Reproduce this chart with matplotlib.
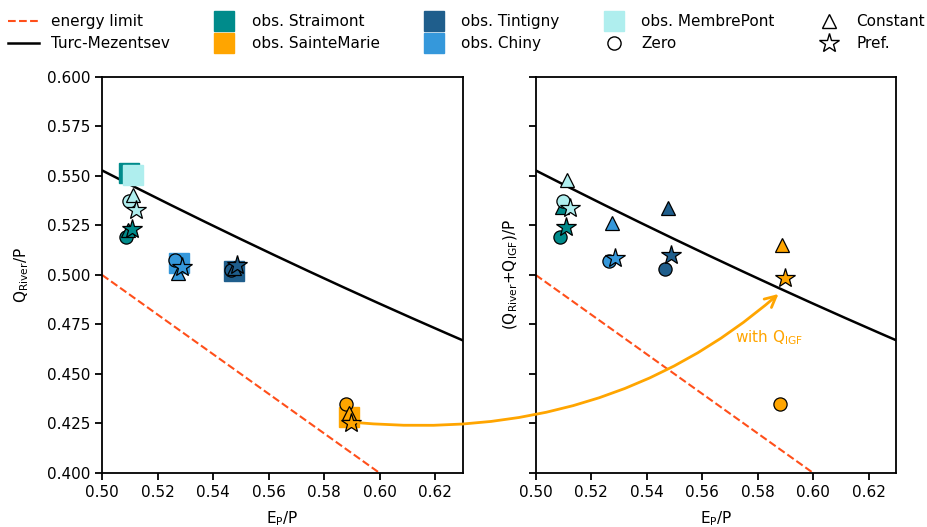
import numpy as np
import matplotlib
matplotlib.use("Agg")
import matplotlib.pyplot as plt
from matplotlib.lines import Line2D
from matplotlib.patches import ConnectionPatch

plt.rcParams["font.family"] = ["DejaVu Sans"]
plt.rcParams["font.size"] = 11

# Catchments and their colours
stations = ["Straimont", "SainteMarie", "Tintigny", "Chiny", "MembrePont"]
colors = ["#008b8b", "#ffa500", "#1f5e8c", "#3598db", "#afeeee"]

# Observed Ep/P and Q_River/P
obs_ep = [0.5098, 0.5889, 0.5474, 0.5276, 0.5110]
obs_q = [0.5517, 0.4284, 0.5022, 0.5059, 0.5505]

# Modelled Ep/P per IGF hypothesis
ep_zero = [0.5088, 0.5880, 0.5466, 0.5264, 0.5098]
ep_const = [0.5094, 0.5889, 0.5475, 0.5275, 0.5112]
ep_pref = [0.5108, 0.5897, 0.5487, 0.5287, 0.5123]

# Modelled Q_River/P per hypothesis
qr_zero = [0.5190, 0.4348, 0.5027, 0.5074, 0.5372]
qr_const = [0.5227, 0.4301, 0.5034, 0.5012, 0.5404]
qr_pref = [0.5232, 0.4254, 0.5050, 0.5042, 0.5328]

# Modelled (Q_River + Q_IGF)/P per hypothesis
qt_zero = [0.5190, 0.4348, 0.5030, 0.5072, 0.5375]
qt_const = [0.5345, 0.5152, 0.5337, 0.5264, 0.5480]
qt_pref = [0.5244, 0.4984, 0.5101, 0.5084, 0.5337]

xlim = (0.50, 0.63)
ylim = (0.40, 0.60)
xticks = [0.50, 0.52, 0.54, 0.56, 0.58, 0.60, 0.62]
yticks = [0.400, 0.425, 0.450, 0.475, 0.500, 0.525, 0.550, 0.575, 0.600]

fig, (ax1, ax2) = plt.subplots(1, 2, figsize=(9.28, 5.27), dpi=100)
fig.subplots_adjust(left=0.110, right=0.966, bottom=0.1025, top=0.854, wspace=0.202)

x = np.linspace(xlim[0], xlim[1], 200)
turc = 1.0 - (1.0 + x ** -2.0) ** -0.5
energy = 1.0 - x

for ax in (ax1, ax2):
    ax.plot(x, energy, ls="--", color="#ff4f1a", lw=1.5, zorder=2)
    ax.plot(x, turc, color="black", lw=1.8, zorder=2)
    ax.set_xlim(*xlim)
    ax.set_ylim(*ylim)
    ax.set_xticks(xticks)
    ax.set_yticks(yticks)
    ax.set_xticklabels([f"{t:.2f}" for t in xticks])
    ax.set_xlabel(r"E$_{\rm P}$/P", labelpad=7)
    for s in ax.spines.values():
        s.set_linewidth(1.3)
    ax.tick_params(width=1.3, length=5)

ax1.set_yticklabels([f"{t:.3f}" for t in yticks])
ax2.set_yticklabels([])
ax1.set_ylabel(r"Q$_{\rm River}$/P", labelpad=11)
ax2.set_ylabel(r"(Q$_{\rm River}$+Q$_{\rm IGF}$)/P", labelpad=3)

mk = dict(ls="none", markeredgecolor="black", markeredgewidth=0.9, zorder=4)

# Left: observed squares and Q_River/P
for i, c in enumerate(colors):
    ax1.plot(obs_ep[i], obs_q[i], marker="s", ms=15, color=c, mec=c, ls="none", zorder=3)
for i, c in enumerate(colors):
    ax1.plot(ep_zero[i], qr_zero[i], marker="o", ms=9.5, mfc=c, **mk)
    ax1.plot(ep_const[i], qr_const[i], marker="^", ms=10.5, mfc=c, **mk)
    ax1.plot(ep_pref[i], qr_pref[i], marker="*", ms=15, mfc=c, **mk)

# Right: total outflow including IGF
for i, c in enumerate(colors):
    ax2.plot(ep_zero[i], qt_zero[i], marker="o", ms=9.5, mfc=c, **mk)
    ax2.plot(ep_const[i], qt_const[i], marker="^", ms=10.5, mfc=c, **mk)
    ax2.plot(ep_pref[i], qt_pref[i], marker="*", ms=15, mfc=c, **mk)

# Arrow from the SainteMarie point without IGF to the one with IGF
con = ConnectionPatch(xyA=(ep_pref[1] + 0.0025, qr_pref[1]), coordsA=ax1.transData,
                      xyB=(ep_pref[1] - 0.0022, qt_pref[1] - 0.008), coordsB=ax2.transData,
                      arrowstyle="->", connectionstyle="angle3,angleA=-5,angleB=41",
                      color="#ffa500", lw=2, mutation_scale=20, shrinkA=0, shrinkB=0,
                      zorder=5)
fig.add_artist(con)
ax2.text(0.5842, 0.4685, r"with Q$_{\rm IGF}$", color="#ffa500", ha="center", va="center")

handles = [
    Line2D([], [], ls="--", color="#ff4f1a", lw=1.5, label="energy limit"),
    Line2D([], [], color="black", lw=1.8, label="Turc-Mezentsev"),
]
for st, c in zip(stations, colors):
    handles.append(Line2D([], [], marker="s", ms=15, color=c, mec=c, ls="none", label=f"obs. {st}"))
handles += [
    Line2D([], [], marker="o", ms=9.5, mfc="white", mec="black", ls="none", label="Zero"),
    Line2D([], [], marker="^", ms=10.5, mfc="white", mec="black", ls="none", label="Constant"),
    Line2D([], [], marker="*", ms=15, mfc="white", mec="black", ls="none", label="Pref."),
]
fig.legend(handles=handles, ncol=5, loc="upper center", bbox_to_anchor=(0.503, 0.99),
           frameon=False, handlelength=2.0, columnspacing=2.55, labelspacing=0.45,
           borderaxespad=0.2)

fig.savefig("out.png", dpi=100)
